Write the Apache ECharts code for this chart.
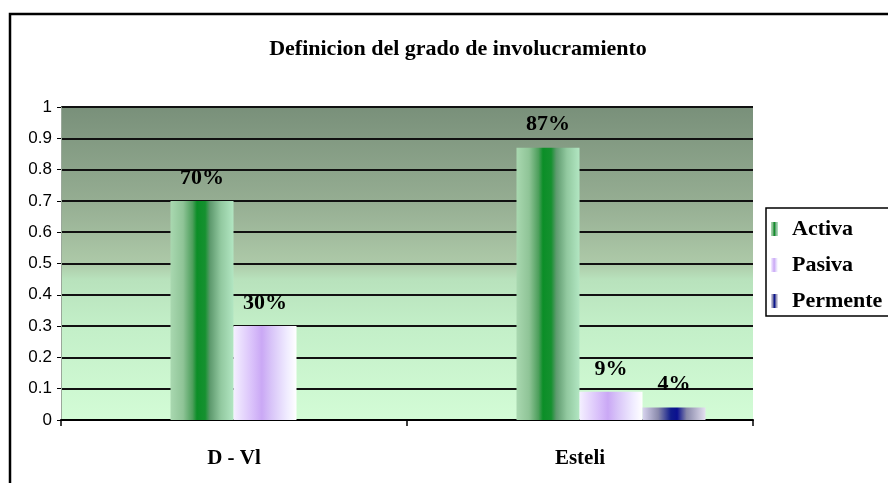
<!DOCTYPE html>
<html>
<head>
<meta charset="utf-8">
<script src="https://cdn.jsdelivr.net/npm/echarts@6/dist/echarts.min.js"></script>
<style>
  html, body { margin: 0; padding: 0; background: #ffffff; }
  #chart { width: 888px; height: 483px; }
</style>
</head>
<body>
<div id="chart"></div>
<script>
// Involvement level per region
const categories = ['D - Vl', 'Esteli'];
const activa = [0.70, 0.87];
const pasiva = [0.30, 0.09];
const permente = [null, 0.04];
const yTicks = [0, 0.1, 0.2, 0.3, 0.4, 0.5, 0.6, 0.7, 0.8, 0.9, 1];

const serif = '"Liberation Serif", "Times New Roman", serif';
const G = echarts.graphic.LinearGradient;

function hGrad(stops) {
  return new G(0, 0, 1, 0, stops.map(s => ({ offset: s[0], color: s[1] })));
}

const activaFill = hGrad([[0, '#a9d8b0'], [0.2, '#8fc497'], [0.35, '#4d9f5c'], [0.42, '#0b8e27'],
  [0.55, '#15912f'], [0.63, '#5e9a6e'], [0.8, '#92c9a0'], [1, '#b2e6c2']]);
const pasivaFill = hGrad([[0, '#f4f0ff'], [0.3, '#d9c0fa'], [0.45, '#caa8f5'], [0.6, '#d8c4f8'],
  [0.85, '#f0ecff'], [1, '#ffffff']]);
const permenteFill = hGrad([[0, '#d8d4ee'], [0.25, '#8a8aac'], [0.45, '#101c8c'], [0.55, '#0a1090'],
  [0.7, '#8888aa'], [1, '#e4e0f0']]);

const plotFill = new G(0, 0, 0, 1, [
  { offset: 0, color: '#79907a' },
  { offset: 0.3, color: '#95ad92' },
  { offset: 0.5, color: '#adc9a8' },
  { offset: 0.55, color: '#b8e2bc' },
  { offset: 0.7, color: '#c3efc8' },
  { offset: 1, color: '#d3fcd6' }
]);

const valueLabel = {
  show: true,
  position: 'top',
  distance: 12,
  fontFamily: serif,
  fontWeight: 'bold',
  fontSize: 22,
  color: '#000',
  formatter: p => Math.round(p.value * 100) + '%'
};

const chart = echarts.init(document.getElementById('chart'), null, { renderer: 'canvas' });

chart.setOption({
  animation: false,
  backgroundColor: '#ffffff',
  graphic: [{
    // outer chart frame, running past the right and bottom edges
    type: 'rect',
    z: -10,
    shape: { x: 10, y: 14, width: 1000, height: 1000 },
    style: { fill: 'none', stroke: '#000', lineWidth: 2.5 }
  }, {
    // legend frame, open past the right edge
    type: 'rect',
    z: 1,
    shape: { x: 766, y: 208, width: 200, height: 108 },
    style: { fill: '#fff', stroke: '#000', lineWidth: 1.5 }
  }],
  title: {
    text: 'Definicion del grado de involucramiento',
    left: 453,
    top: 33,
    textAlign: 'center',
    textStyle: { fontFamily: serif, fontWeight: 'bold', fontSize: 22, color: '#000' }
  },
  legend: {
    z: 5,
    orient: 'vertical',
    left: 766,
    top: 208,
    padding: [10, 0, 6, 5],
    itemGap: 14,
    itemWidth: 7,
    itemHeight: 14,
    icon: 'rect',
    textStyle: { fontFamily: serif, fontWeight: 'bold', fontSize: 22, color: '#000', padding: [0, 0, 0, 9] },
    data: ['Activa', 'Pasiva', 'Permente']
  },
  grid: [
    { left: 61, right: 135, top: 107, bottom: 63, show: true, backgroundColor: plotFill, borderWidth: 0 },
    { left: 92, right: 104, top: 107, bottom: 63 }
  ],
  xAxis: [{
    gridIndex: 0,
    type: 'category',
    data: categories,
    boundaryGap: true,
    axisLine: { lineStyle: { color: '#000', width: 2 } },
    axisTick: { show: true, length: 6, lineStyle: { color: '#000', width: 1.5 } },
    axisLabel: { margin: 28, fontFamily: serif, fontWeight: 'bold', fontSize: 21, color: '#000' }
  }, {
    gridIndex: 1,
    type: 'category',
    data: categories,
    show: false
  }],
  yAxis: [{
    gridIndex: 0,
    type: 'value',
    min: yTicks[0],
    max: yTicks[yTicks.length - 1],
    interval: 0.1,
    axisLine: { show: true, lineStyle: { color: '#9aa89a', width: 1 } },
    axisTick: { show: true, length: 4, lineStyle: { color: '#000' } },
    axisLabel: {
      margin: 9,
      fontFamily: 'Arial, "Liberation Sans", sans-serif',
      fontSize: 17,
      color: '#000',
      formatter: v => String(parseFloat(v.toFixed(1)))
    },
    splitLine: { show: true, lineStyle: { color: '#111', width: 2 } }
  }, {
    gridIndex: 1,
    type: 'value',
    min: 0,
    max: 1,
    show: false,
    splitLine: { show: false }
  }],
  series: [
    { name: 'Activa', type: 'bar', xAxisIndex: 1, yAxisIndex: 1, data: activa,
      barWidth: 63, barGap: '0%', itemStyle: { color: activaFill }, label: valueLabel },
    { name: 'Pasiva', type: 'bar', xAxisIndex: 1, yAxisIndex: 1, data: pasiva,
      barWidth: 63, barGap: '0%', itemStyle: { color: pasivaFill }, label: valueLabel },
    { name: 'Permente', type: 'bar', xAxisIndex: 1, yAxisIndex: 1, data: permente,
      barWidth: 63, barGap: '0%', itemStyle: { color: permenteFill }, label: valueLabel }
  ]
});
</script>
</body>
</html>
